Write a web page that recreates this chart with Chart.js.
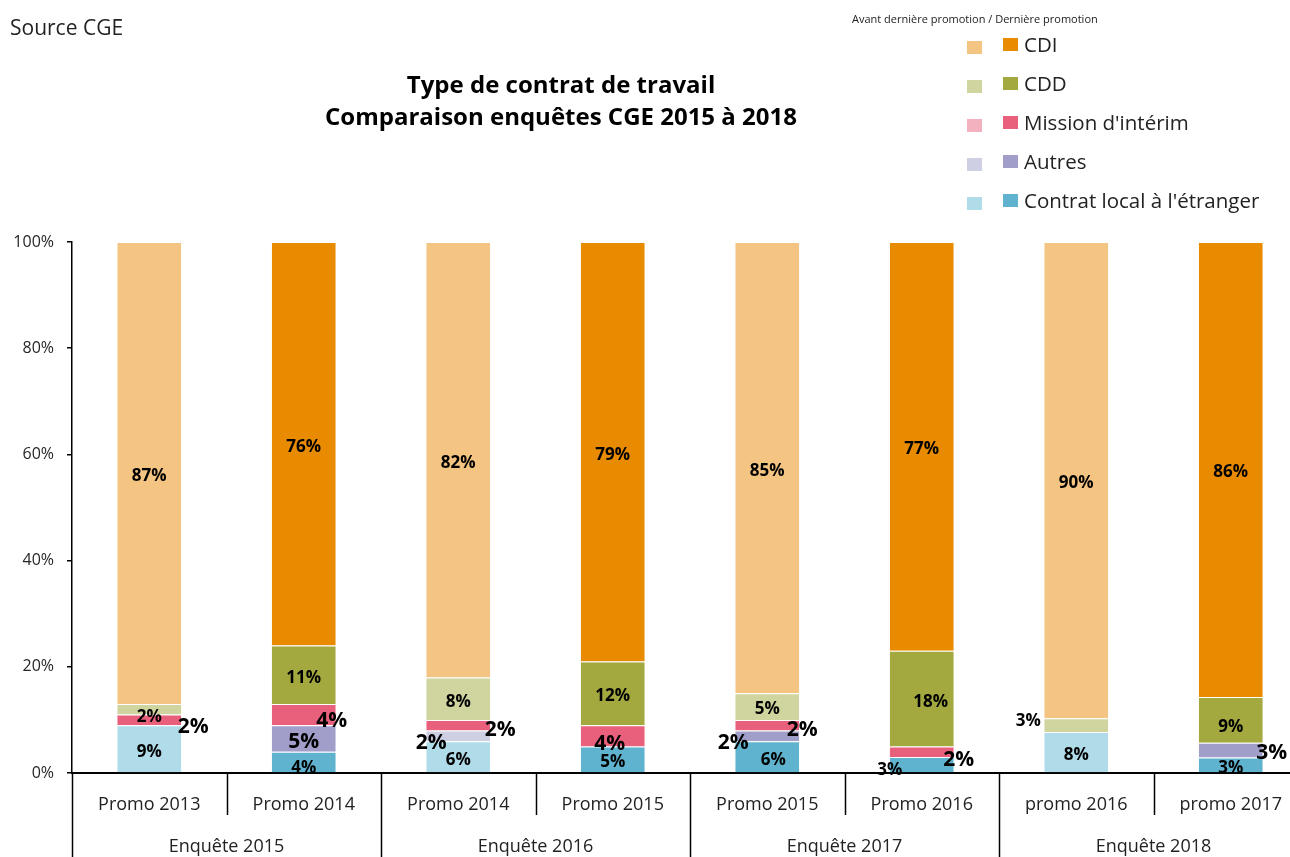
<!DOCTYPE html>
<html>
<head>
<meta charset="utf-8">
<script src="https://cdn.jsdelivr.net/npm/chart.js@4/dist/chart.umd.min.js"></script>
<style>
  html, body { margin: 0; padding: 0; background: #fff; overflow: hidden; }
  body { width: 1290px; height: 857px; position: relative; font-family: "Open Sans", sans-serif; color: #000; }
  #wrap { position: absolute; left: 0; top: 0; width: 1310px; height: 857px; }
  .source { position: absolute; left: 10px; top: 13px; font-size: 21px; color: #222; }
  .title { position: absolute; left: 211px; width: 700px; top: 68px; text-align: center; font-weight: bold; font-size: 24px; line-height: 32px; }
  .lhead { position: absolute; left: 852px; top: 11px; font-size: 11px; color: #222; }
  .legend { position: absolute; left: 967px; top: 30px; }
  .row { position: relative; height: 39px; font-size: 20.5px; color: #222; }
  .sq { position: absolute; width: 15px; height: 13px; }
  .sq.light { left: 0; top: 11px; }
  .sq.dark { left: 36px; top: 8px; }
  .row span { position: absolute; left: 57px; top: 0px; white-space: nowrap; }
</style>
</head>
<body>
<div id="wrap"><canvas id="chart" width="1310" height="857"></canvas></div>
<div class="source">Source CGE</div>
<div class="title">Type de contrat de travail<br>Comparaison enquêtes CGE 2015 à 2018</div>
<div class="lhead">Avant dernière promotion / Dernière promotion</div>
<div class="legend" id="legend"></div>
<script>
const $ = id => document.getElementById(id);

// categories
const promos = ["Promo 2013", "Promo 2014", "Promo 2014", "Promo 2015",
                "Promo 2015", "Promo 2016", "promo 2016", "promo 2017"];
const enquetes = ["Enquête 2015", "Enquête 2016", "Enquête 2017", "Enquête 2018"];

// series, in %, bottom to top
const localEtranger = [9, 4, 6, 5, 6, 3, 7.7, 2.9];
const autres        = [0, 5, 2, 0, 2, 0, 0, 2.8];
const interim       = [2, 4, 2, 4, 2, 2, 0, 0];
const cdd           = [2, 11, 8, 12, 5, 18, 2.6, 8.6];
const cdi           = [87, 76, 82, 79, 85, 77, 89.7, 85.7];

const yTicks = [0, 20, 40, 60, 80, 100];

// light = avant dernière promotion, dark = dernière promotion
const series = [
  { label: "Contrat local à l'étranger", data: localEtranger, light: "#b0dbe8", dark: "#5fb3cf", shade: "LDLDDDLD" },
  { label: "Autres", data: autres, light: "#cfcfe4", dark: "#a19fc9", shade: "LDLDDDLD" },
  { label: "Mission d'intérim", data: interim, light: "#f3b0bf", dark: "#e8607c", shade: "DDDDDDDD" },
  { label: "CDD", data: cdd, light: "#d0d59f", dark: "#a3a83f", shade: "LDLDLDLD" },
  { label: "CDI", data: cdi, light: "#f4c483", dark: "#e98b00", shade: "LDLDLDLD" }
];

// label nudges: "dataset-index": [dx, dy, big]
const nudge = {
  "2-0": [44, 4, 1], "3-0": [0, 5, 0],
  "0-1": [0, 3, 0], "1-1": [0, 1, 1], "2-1": [28, 3, 1],
  "1-2": [-27, 4, 1], "2-2": [42, 2, 1],
  "2-3": [-3, 5, 1],
  "0-4": [6, 0, 0], "1-4": [-34, 4, 1], "2-4": [35, 2, 1],
  "0-5": [-32, 2, 0], "2-5": [37, 5, 1], "3-5": [9, 0, 0],
  "3-6": [-48, -7, 0],
  "1-7": [41, 0, 1], "3-7": [0, 4, 0]
};

// legend (top to bottom)
$("legend").innerHTML = series.slice().reverse().map(s => `
  <div class="row"><div class="sq light" style="background:${s.light}"></div>
  <div class="sq dark" style="background:${s.dark}"></div><span>${s.label}</span></div>
`).join("");

const barLabels = {
  id: "barLabels",
  afterDatasetsDraw(c) {
    const ctx = c.ctx;
    ctx.save();
    ctx.fillStyle = "#000";
    ctx.textAlign = "center";
    ctx.textBaseline = "middle";
    c.data.datasets.forEach((ds, d) => {
      c.getDatasetMeta(d).data.forEach((bar, i) => {
        const v = ds.data[i];
        if (!v) return;
        const n = nudge[d + "-" + i] || [0, 0, 0];
        ctx.font = "bold " + (n[2] ? 21 : 17) + "px 'Open Sans'";
        ctx.fillText(Math.round(v) + "%", bar.x + n[0], (bar.y + bar.base) / 2 + n[1] + 3);
      });
    });
    ctx.restore();
  }
};

const groupAxis = {
  id: "groupAxis",
  afterDraw(c) {
    const ctx = c.ctx, a = c.chartArea;
    const w = (a.right - a.left) / promos.length;
    ctx.save();
    ctx.strokeStyle = "#000";
    ctx.lineWidth = 1.5;
    for (let i = 0; i <= promos.length; i++) {
      const x = Math.round(a.left + i * w) + 0.5;
      ctx.beginPath();
      ctx.moveTo(x, a.bottom);
      ctx.lineTo(x, i % 2 ? a.bottom + 42 : 857);
      ctx.stroke();
    }
    ctx.fillStyle = "#222";
    ctx.font = "18px 'Open Sans'";
    ctx.textAlign = "center";
    ctx.textBaseline = "middle";
    enquetes.forEach((g, k) => ctx.fillText(g, a.left + (2 * k + 1) * w, 847));
    ctx.restore();
  }
};

new Chart($("chart"), {
  type: "bar",
  data: {
    labels: promos,
    datasets: series.map(s => ({
      label: s.label,
      data: s.data,
      backgroundColor: promos.map((_, i) => s.shade[i] === "D" ? s.dark : s.light),
      borderColor: "rgba(255,255,255,0.6)",
      borderWidth: { top: 1 },
      borderSkipped: false,
      categoryPercentage: 1,
      barPercentage: 0.414
    }))
  },
  options: {
    responsive: false,
    animation: false,
    layout: { padding: { top: 242, left: 0, right: 2, bottom: 0 } },
    plugins: { legend: { display: false }, tooltip: { enabled: false } },
    scales: {
      x: {
        stacked: true,
        grid: { display: false },
        border: { display: true, color: "#000", width: 2 },
        ticks: { color: "#222", font: { family: "Open Sans", size: 18 }, padding: 13, maxRotation: 0 },
        afterFit: s => { s.height = 84; }
      },
      y: {
        stacked: true,
        min: 0, max: 100,
        afterBuildTicks: s => { s.ticks = yTicks.map(v => ({ value: v })); },
        grid: { drawOnChartArea: false, drawTicks: true, tickLength: 5, color: "#000", lineWidth: 1.5 },
        border: { display: true, color: "#000", width: 1.5 },
        ticks: { color: "#262626", font: { family: "Open Sans", size: 16 }, padding: 13, callback: v => v + "%" },
        afterFit: s => { s.width = 72; }
      }
    }
  },
  plugins: [barLabels, groupAxis]
});
</script>
</body>
</html>
